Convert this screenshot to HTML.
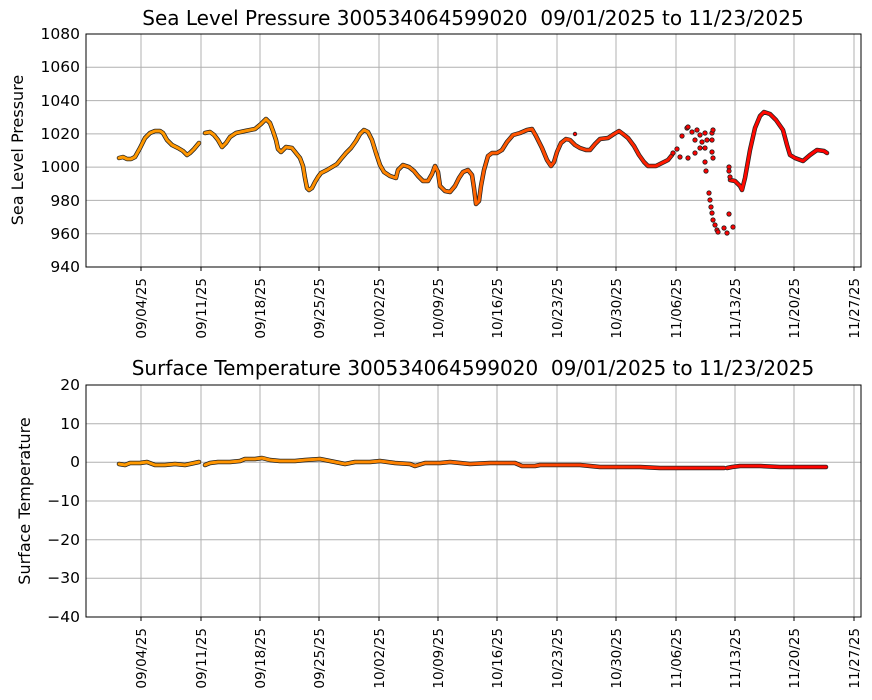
<!DOCTYPE html>
<html><head><meta charset="utf-8"><style>
body{margin:0;background:#fff}
svg{display:block;font-family:"DejaVu Sans","Liberation Sans",sans-serif}
.g{stroke:#b0b0b0;stroke-width:1}
.t{font-size:15.5px;fill:#000}
.x{font-size:13.5px;fill:#000}
.ttl{font-size:20px;white-space:pre}
</style></head><body>
<svg width="872" height="700" viewBox="0 0 872 700">
<defs>
<linearGradient id="cg" gradientUnits="userSpaceOnUse" x1="119" y1="0" x2="827" y2="0">
<stop offset="0" stop-color="#ff9a00"/>
<stop offset="0.35" stop-color="#ff8c00"/>
<stop offset="0.6" stop-color="#ff4a00"/>
<stop offset="0.8" stop-color="#ff1000"/>
<stop offset="1" stop-color="#ff0000"/>
</linearGradient>
</defs>
<!-- TOP -->
<text x="473" y="25" text-anchor="middle" class="ttl" xml:space="preserve">Sea Level Pressure 300534064599020  09/01/2025 to 11/23/2025</text>
<g class="g">
<line x1="86" x2="861" y1="67.3" y2="67.3"/><line x1="86" x2="861" y1="100.6" y2="100.6"/><line x1="86" x2="861" y1="133.9" y2="133.9"/><line x1="86" x2="861" y1="167.1" y2="167.1"/><line x1="86" x2="861" y1="200.4" y2="200.4"/><line x1="86" x2="861" y1="233.7" y2="233.7"/>
<line x1="141" x2="141" y1="34" y2="267"/><line x1="201" x2="201" y1="34" y2="267"/><line x1="260" x2="260" y1="34" y2="267"/><line x1="319" x2="319" y1="34" y2="267"/><line x1="379" x2="379" y1="34" y2="267"/><line x1="438" x2="438" y1="34" y2="267"/><line x1="497" x2="497" y1="34" y2="267"/><line x1="557" x2="557" y1="34" y2="267"/><line x1="616" x2="616" y1="34" y2="267"/><line x1="676" x2="676" y1="34" y2="267"/><line x1="735" x2="735" y1="34" y2="267"/><line x1="794" x2="794" y1="34" y2="267"/><line x1="854" x2="854" y1="34" y2="267"/>
</g>
<g fill="none" stroke-linejoin="round" stroke-linecap="round">
<g stroke="#222" stroke-width="4.5">
<polyline points="119,158 123,157 127,159 131,159 135,157 140,148 145,138 150,133 155,131 160,131 163,133 167,140 172,145 178,148 183,151 187,155 190,153 194,149 199,143"/>
<polyline points="205,133 210,132 214,135 218,140 222,147 226,143 230,137 236,133 245,131 255,129 261,124 266,119 270,123 273,131 276,140 278,149 281,152 286,147 292,148 296,153 300,158 303,166 305,178 307,188 309,190 312,188 315,182 318,177 321,173 327,170 332,167 337,164 341,159 346,153 351,148 356,141 360,134 364,130 368,132 372,140 376,153 380,165 384,172 390,176 396,178 398,170 403,165 409,167 414,171 418,176 423,181 428,181 432,174 435,166 438,172 440,186 445,191 450,192 455,186 459,178 463,172 468,170 472,175 474,188 476,204 479,201 481,186 484,170 488,156 492,153 497,153 502,150 507,142 513,135 520,133 527,130 532,129 536,136 542,148 547,160 551,166 554,162 557,152 561,143 566,139 570,140 575,145 580,148 586,150 590,150 595,144 600,139 608,138 614,134 619,131 623,134 628,138 634,146 639,155 644,162 648,166 652,166 656,166 662,163 668,160 672,155"/>
<polyline points="730,180 735,181 740,186 742,190 745,178 750,150 755,128 760,116 764,112 770,114 776,120 783,130 787,145 790,155 795,158 803,161 810,155 817,150 824,151 827,153"/>
</g>
<g stroke="url(#cg)" stroke-width="3">
<polyline points="119,158 123,157 127,159 131,159 135,157 140,148 145,138 150,133 155,131 160,131 163,133 167,140 172,145 178,148 183,151 187,155 190,153 194,149 199,143"/>
<polyline points="205,133 210,132 214,135 218,140 222,147 226,143 230,137 236,133 245,131 255,129 261,124 266,119 270,123 273,131 276,140 278,149 281,152 286,147 292,148 296,153 300,158 303,166 305,178 307,188 309,190 312,188 315,182 318,177 321,173 327,170 332,167 337,164 341,159 346,153 351,148 356,141 360,134 364,130 368,132 372,140 376,153 380,165 384,172 390,176 396,178 398,170 403,165 409,167 414,171 418,176 423,181 428,181 432,174 435,166 438,172 440,186 445,191 450,192 455,186 459,178 463,172 468,170 472,175 474,188 476,204 479,201 481,186 484,170 488,156 492,153 497,153 502,150 507,142 513,135 520,133 527,130 532,129 536,136 542,148 547,160 551,166 554,162 557,152 561,143 566,139 570,140 575,145 580,148 586,150 590,150 595,144 600,139 608,138 614,134 619,131 623,134 628,138 634,146 639,155 644,162 648,166 652,166 656,166 662,163 668,160 672,155"/>
<polyline points="730,180 735,181 740,186 742,190 745,178 750,150 755,128 760,116 764,112 770,114 776,120 783,130 787,145 790,155 795,158 803,161 810,155 817,150 824,151 827,153"/>
</g>
</g>
<g fill="#ff0000" stroke="#222" stroke-width="0.8">
<circle cx="682" cy="136" r="2.2"/><circle cx="687" cy="128" r="2.2"/><circle cx="688" cy="127" r="2.2"/><circle cx="692" cy="132" r="2.2"/><circle cx="697" cy="130" r="2.2"/><circle cx="700" cy="135" r="2.2"/><circle cx="705" cy="133" r="2.2"/><circle cx="712" cy="133" r="2.2"/><circle cx="713" cy="130" r="2.2"/><circle cx="695" cy="140" r="2.2"/><circle cx="702" cy="142" r="2.2"/><circle cx="707" cy="140" r="2.2"/><circle cx="712" cy="140" r="2.2"/><circle cx="677" cy="149" r="2.2"/><circle cx="680" cy="157" r="2.2"/><circle cx="688" cy="158" r="2.2"/><circle cx="695" cy="153" r="2.2"/><circle cx="700" cy="148" r="2.2"/><circle cx="705" cy="148" r="2.2"/><circle cx="712" cy="152" r="2.2"/><circle cx="713" cy="158" r="2.2"/><circle cx="705" cy="162" r="2.2"/><circle cx="706" cy="171" r="2.2"/><circle cx="709" cy="193" r="2.2"/><circle cx="710" cy="200" r="2.2"/><circle cx="711" cy="207" r="2.2"/><circle cx="712" cy="213" r="2.2"/><circle cx="713" cy="220" r="2.2"/><circle cx="715" cy="225" r="2.2"/><circle cx="717" cy="230" r="2.2"/><circle cx="718" cy="232" r="2.2"/><circle cx="724" cy="228" r="2.2"/><circle cx="727" cy="233" r="2.2"/><circle cx="733" cy="227" r="2.2"/><circle cx="729" cy="214" r="2.2"/><circle cx="729" cy="167" r="2.2"/><circle cx="729" cy="171" r="2.2"/><circle cx="730" cy="177" r="2.2"/><circle cx="673" cy="153" r="2.2"/><circle cx="575" cy="134" r="1.8"/>
</g>
<rect x="86" y="34" width="775" height="233" fill="none" stroke="#000" stroke-width="1"/>
<g class="t" text-anchor="end">
<text x="80" y="39">1080</text><text x="80" y="72">1060</text><text x="80" y="106">1040</text><text x="80" y="139">1020</text><text x="80" y="172">1000</text><text x="80" y="206">980</text><text x="80" y="239">960</text><text x="80" y="272">940</text>
</g>
<text transform="translate(23,150) rotate(-90)" text-anchor="middle" style="font-size:16px">Sea Level Pressure</text>
<g stroke="#000"><line x1="141" x2="141" y1="267" y2="271"/><line x1="201" x2="201" y1="267" y2="271"/><line x1="260" x2="260" y1="267" y2="271"/><line x1="319" x2="319" y1="267" y2="271"/><line x1="379" x2="379" y1="267" y2="271"/><line x1="438" x2="438" y1="267" y2="271"/><line x1="497" x2="497" y1="267" y2="271"/><line x1="557" x2="557" y1="267" y2="271"/><line x1="616" x2="616" y1="267" y2="271"/><line x1="676" x2="676" y1="267" y2="271"/><line x1="735" x2="735" y1="267" y2="271"/><line x1="794" x2="794" y1="267" y2="271"/><line x1="854" x2="854" y1="267" y2="271"/></g>
<g class="x" text-anchor="end">
<text transform="translate(146,278) rotate(-90)">09/04/25</text><text transform="translate(206,278) rotate(-90)">09/11/25</text><text transform="translate(265,278) rotate(-90)">09/18/25</text><text transform="translate(324,278) rotate(-90)">09/25/25</text><text transform="translate(384,278) rotate(-90)">10/02/25</text><text transform="translate(443,278) rotate(-90)">10/09/25</text><text transform="translate(502,278) rotate(-90)">10/16/25</text><text transform="translate(562,278) rotate(-90)">10/23/25</text><text transform="translate(621,278) rotate(-90)">10/30/25</text><text transform="translate(681,278) rotate(-90)">11/06/25</text><text transform="translate(740,278) rotate(-90)">11/13/25</text><text transform="translate(799,278) rotate(-90)">11/20/25</text><text transform="translate(859,278) rotate(-90)">11/27/25</text>
</g>
<!-- BOTTOM -->
<text x="473" y="375" text-anchor="middle" class="ttl" xml:space="preserve">Surface Temperature 300534064599020  09/01/2025 to 11/23/2025</text>
<g class="g">
<line x1="86" x2="861" y1="423.7" y2="423.7"/><line x1="86" x2="861" y1="462.3" y2="462.3"/><line x1="86" x2="861" y1="501" y2="501"/><line x1="86" x2="861" y1="539.7" y2="539.7"/><line x1="86" x2="861" y1="578.3" y2="578.3"/>
<line x1="141" x2="141" y1="385" y2="617"/><line x1="201" x2="201" y1="385" y2="617"/><line x1="260" x2="260" y1="385" y2="617"/><line x1="319" x2="319" y1="385" y2="617"/><line x1="379" x2="379" y1="385" y2="617"/><line x1="438" x2="438" y1="385" y2="617"/><line x1="497" x2="497" y1="385" y2="617"/><line x1="557" x2="557" y1="385" y2="617"/><line x1="616" x2="616" y1="385" y2="617"/><line x1="676" x2="676" y1="385" y2="617"/><line x1="735" x2="735" y1="385" y2="617"/><line x1="794" x2="794" y1="385" y2="617"/><line x1="854" x2="854" y1="385" y2="617"/>
</g>
<g fill="none" stroke-linejoin="round" stroke-linecap="round">
<g stroke="#222" stroke-width="4.5">
<polyline points="119,464 125,465 130,463 140,463 147,462 155,465 165,465 175,464 185,465 199,462"/>
<polyline points="205,465 210,463 218,462 230,462 240,461 245,459 255,459 262,458 270,460 280,461 295,461 305,460 320,459 330,461 335,462 345,464 355,462 370,462 380,461 395,463 410,464 415,466 425,463 440,463 450,462 470,464 490,463 500,463 515,463 522,466 535,466 540,465 560,465 580,465 600,467 620,467 640,467 660,468 680,468 700,468 724,468"/>
<polyline points="727,468 732,467 740,466 760,466 780,467 800,467 826,467"/>
</g>
<g stroke="url(#cg)" stroke-width="3">
<polyline points="119,464 125,465 130,463 140,463 147,462 155,465 165,465 175,464 185,465 199,462"/>
<polyline points="205,465 210,463 218,462 230,462 240,461 245,459 255,459 262,458 270,460 280,461 295,461 305,460 320,459 330,461 335,462 345,464 355,462 370,462 380,461 395,463 410,464 415,466 425,463 440,463 450,462 470,464 490,463 500,463 515,463 522,466 535,466 540,465 560,465 580,465 600,467 620,467 640,467 660,468 680,468 700,468 724,468"/>
<polyline points="727,468 732,467 740,466 760,466 780,467 800,467 826,467"/>
</g>
</g>
<rect x="86" y="385" width="775" height="232" fill="none" stroke="#000" stroke-width="1"/>
<g class="t" text-anchor="end">
<text x="80" y="390">20</text><text x="80" y="429">10</text><text x="80" y="467">0</text><text x="80" y="506">−10</text><text x="80" y="545">−20</text><text x="80" y="583">−30</text><text x="80" y="622">−40</text>
</g>
<text transform="translate(30,501) rotate(-90)" text-anchor="middle" style="font-size:16px">Surface Temperature</text>
<g stroke="#000"><line x1="141" x2="141" y1="617" y2="621"/><line x1="201" x2="201" y1="617" y2="621"/><line x1="260" x2="260" y1="617" y2="621"/><line x1="319" x2="319" y1="617" y2="621"/><line x1="379" x2="379" y1="617" y2="621"/><line x1="438" x2="438" y1="617" y2="621"/><line x1="497" x2="497" y1="617" y2="621"/><line x1="557" x2="557" y1="617" y2="621"/><line x1="616" x2="616" y1="617" y2="621"/><line x1="676" x2="676" y1="617" y2="621"/><line x1="735" x2="735" y1="617" y2="621"/><line x1="794" x2="794" y1="617" y2="621"/><line x1="854" x2="854" y1="617" y2="621"/></g>
<g class="x" text-anchor="end">
<text transform="translate(146,628) rotate(-90)">09/04/25</text><text transform="translate(206,628) rotate(-90)">09/11/25</text><text transform="translate(265,628) rotate(-90)">09/18/25</text><text transform="translate(324,628) rotate(-90)">09/25/25</text><text transform="translate(384,628) rotate(-90)">10/02/25</text><text transform="translate(443,628) rotate(-90)">10/09/25</text><text transform="translate(502,628) rotate(-90)">10/16/25</text><text transform="translate(562,628) rotate(-90)">10/23/25</text><text transform="translate(621,628) rotate(-90)">10/30/25</text><text transform="translate(681,628) rotate(-90)">11/06/25</text><text transform="translate(740,628) rotate(-90)">11/13/25</text><text transform="translate(799,628) rotate(-90)">11/20/25</text><text transform="translate(859,628) rotate(-90)">11/27/25</text>
</g>
</svg>
</body></html>
